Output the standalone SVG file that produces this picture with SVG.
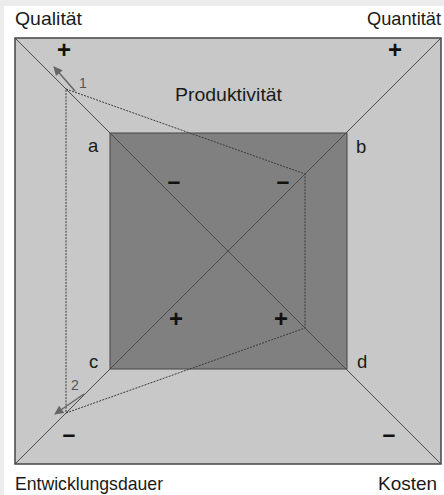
<svg xmlns="http://www.w3.org/2000/svg" width="444" height="495" viewBox="0 0 444 495">
  <style>
    .lbl { font-family: "Liberation Sans", Arial, sans-serif; font-size: 18.5px; fill: #1a1a1a; }
    .sign { font-family: "Liberation Sans", Arial, sans-serif; font-weight: bold; fill: #111; text-anchor: middle; }
    .num { font-family: "Liberation Sans", Arial, sans-serif; font-size: 14px; fill: #555; }
    .diag { stroke: #4a4a4a; stroke-width: 1; fill: none; }
    .dots { stroke: #3a3a3a; stroke-width: 1; stroke-dasharray: 2 1.2; fill: none; }
    .arrow { stroke: #666; stroke-width: 1.5; fill: none; marker-end: url(#head); }
  </style>
  <defs>
    <marker id="head" viewBox="0 0 10 10" refX="9" refY="5" markerWidth="7" markerHeight="6" orient="auto" markerUnits="strokeWidth">
      <path d="M0,0 L10,5 L0,10 z" fill="#666"/>
    </marker>
  </defs>

  <!-- page background -->
  <rect x="0" y="0" width="444" height="495" fill="#ececec"/>
  <rect x="4" y="6" width="440" height="489" fill="#ffffff"/>

  <!-- outer square -->
  <g id="outer">
    <rect x="15" y="38" width="426" height="426" fill="#c8c8c8" stroke="#444" stroke-width="1.5"/>
  </g>

  <!-- inner square -->
  <g id="inner">
    <rect x="110" y="133" width="237" height="236" fill="#808080" stroke="#444" stroke-width="1"/>
  </g>

  <!-- connectors: diagonals, dotted path, arrows -->
  <g id="connectors">
    <line class="diag" x1="15" y1="38" x2="441" y2="464"/>
    <line class="diag" x1="441" y1="38" x2="15" y2="464"/>
    <polygon class="dots" points="66,89 305,174 305,328 66,413"/>
    <line class="arrow" x1="75" y1="91" x2="54" y2="67"/>
    <line class="arrow" x1="84" y1="394" x2="55" y2="414"/>
  </g>

  <!-- corner titles -->
  <g id="qualitaet"><text class="lbl" x="15" y="25" textLength="67" lengthAdjust="spacingAndGlyphs">Qualität</text></g>
  <g id="quantitaet"><text class="lbl" x="367" y="25" textLength="74" lengthAdjust="spacingAndGlyphs">Quantität</text></g>
  <g id="entwicklungsdauer"><text class="lbl" x="15" y="490" textLength="148" lengthAdjust="spacingAndGlyphs">Entwicklungsdauer</text></g>
  <g id="kosten"><text class="lbl" x="378" y="490" textLength="59" lengthAdjust="spacingAndGlyphs">Kosten</text></g>
  <g id="produktivitaet"><text class="lbl" x="175" y="101" textLength="107" lengthAdjust="spacingAndGlyphs">Produktivität</text></g>

  <!-- inner corner labels -->
  <g id="corner-a"><text class="lbl" x="88" y="152">a</text></g>
  <g id="corner-b"><text class="lbl" x="356" y="153">b</text></g>
  <g id="corner-c"><text class="lbl" x="89" y="368">c</text></g>
  <g id="corner-d"><text class="lbl" x="357" y="368">d</text></g>

  <!-- step numbers -->
  <g id="step-1"><text class="num" x="79" y="88">1</text></g>
  <g id="step-2"><text class="num" x="71" y="390">2</text></g>

  <!-- signs -->
  <g id="signs">
    <text class="sign" x="64" y="58" font-size="24">+</text>
    <text class="sign" x="395" y="58" font-size="24">+</text>
    <text class="sign" x="69" y="442" font-size="23">–</text>
    <text class="sign" x="389" y="442" font-size="23">–</text>
    <text class="sign" x="174" y="189" font-size="23">–</text>
    <text class="sign" x="283" y="189" font-size="23">–</text>
    <text class="sign" x="176" y="327" font-size="24">+</text>
    <text class="sign" x="281" y="327" font-size="24">+</text>
  </g>
</svg>
